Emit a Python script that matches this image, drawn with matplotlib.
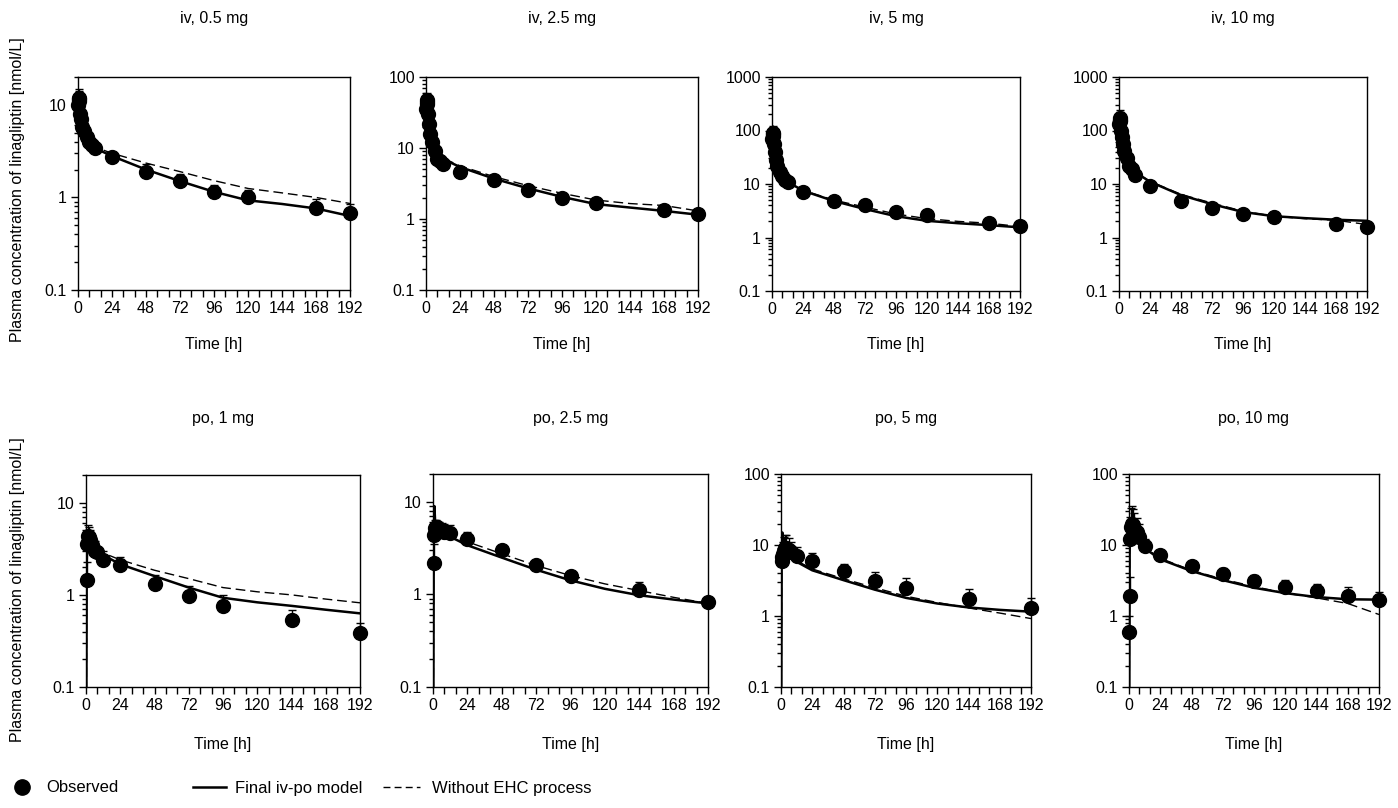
import matplotlib
matplotlib.use("Agg")
import matplotlib.pyplot as plt
import matplotlib.ticker as mtick
from matplotlib import font_manager
from matplotlib.lines import Line2D
import numpy as np

plt.rcParams['font.family'] = ['Liberation Sans', 'DejaVu Sans']

# observed sampling times
iv_obs_t = [0.25, 0.5, 0.75, 1, 1.5, 2, 3, 4, 6, 8, 10, 12, 24, 48, 72, 96, 120, 168, 192]
po_obs_t = [0.5, 1, 1.5, 2, 3, 4, 6, 8, 12, 24, 48, 72, 96, 144, 192]
po10_obs_t = [0.25, 0.5, 1, 1.5, 2, 3, 4, 6, 8, 12, 24, 48, 72, 96, 120, 144, 168, 192]

# observed mean and mean+SD (nmol/L)
iv05_obs = [10, 11.5, 12, 11, 8, 7, 5.8, 5.2, 4.5, 4.0, 3.7, 3.4, 2.75, 1.9, 1.5, 1.15, 1.0, 0.77, 0.68]
iv05_up = [12, 14, 15, 13, 9.5, 8.2, 6.7, 6.0, 5.2, 4.6, 4.3, 3.9, 3.1, 2.3, 1.8, 1.35, 1.2, 0.97, 0.84]
iv25_obs = [35, 42, 48, 45, 30, 22, 16, 12, 9, 7.0, 6.5, 5.9, 4.6, 3.55, 2.6, 2.0, 1.7, 1.35, 1.18]
iv25_up = [42, 52, 60, 55, 36, 27, 19, 14, 10.5, 8, 7.4, 6.8, 5.3, 3.9, 2.9, 2.3, 2.0, 1.6, 1.4]
iv5_obs = [70, 85, 90, 80, 55, 40, 28, 22, 17, 14, 12, 10.7, 7.2, 4.9, 4.1, 3.05, 2.6, 1.9, 1.67]
iv5_up = [90, 110, 120, 100, 68, 48, 33, 26, 20, 16, 14, 12, 8, 5.5, 4.6, 3.4, 2.9, 2.1, 1.9]
iv10_obs = [130, 160, 170, 150, 100, 75, 55, 42, 30, 22, 19, 15, 9, 4.8, 3.6, 2.8, 2.4, 1.8, 1.6]
iv10_up = [170, 220, 240, 190, 130, 95, 70, 52, 36, 26, 22, 17, 10, 5.4, 4.1, 3.1, 2.6, 2.0, 1.8]

po1_obs = [1.45, 3.6, 4.4, 4.3, 3.9, 3.5, 3.0, 2.9, 2.4, 2.1, 1.3, 0.97, 0.75, 0.53, 0.39]
po1_up = [2.3, 4.8, 5.8, 5.5, 5.0, 4.3, 3.8, 3.3, 3.0, 2.6, 1.65, 1.25, 1.0, 0.68, 0.5]
po25_obs = [2.2, 4.4, 5.2, 5.4, 5.3, 5.0, 4.8, 4.7, 4.6, 4.0, 3.0, 2.1, 1.6, 1.12, 0.82]
po25_up = [3.5, 5.8, 6.3, 6.4, 6.2, 6.0, 5.9, 5.7, 5.6, 4.7, 3.4, 2.3, 1.8, 1.35, 0.9]
po5_obs = [6.0, 6.8, 7.5, 8.3, 9.0, 9.2, 8.5, 8.0, 7.0, 5.9, 4.3, 3.1, 2.5, 1.74, 1.3]
po5_up = [7.5, 9, 11, 13, 14, 14, 12.5, 11, 9.5, 7.6, 5.4, 4.1, 3.4, 2.4, 1.8]
po10_obs = [0.6, 1.9, 12, 18, 20, 19, 17, 15, 13, 9.8, 7.2, 5.0, 3.9, 3.1, 2.55, 2.25, 1.9, 1.7]
po10_up = [1.0, 3.5, 25, 33, 35, 32, 28, 24, 20, 12, 8.3, 6.0, 4.8, 3.8, 3.2, 2.8, 2.6, 2.2]

# model predictions
iv_model_t = [0, 0.5, 1, 1.5, 2, 3, 4, 6, 8, 12, 24, 48, 72, 96, 120, 144, 168, 192]
iv05_fit = [9, 14, 10, 7.5, 6.5, 5.5, 5.0, 4.3, 3.9, 3.4, 2.8, 2.0, 1.5, 1.15, 0.93, 0.85, 0.76, 0.63]
iv05_noehc = [9, 14, 10, 7.5, 6.5, 5.5, 5.0, 4.3, 3.95, 3.5, 3.0, 2.35, 1.9, 1.52, 1.25, 1.12, 1.0, 0.86]
iv25_fit = [30, 55, 40, 27, 20, 15, 12, 9.5, 8.2, 7.0, 5.4, 3.7, 2.7, 2.05, 1.62, 1.45, 1.3, 1.15]
iv25_noehc = [30, 55, 40, 27, 20, 15, 12, 9.5, 8.3, 7.2, 5.6, 3.95, 2.95, 2.3, 1.85, 1.65, 1.55, 1.3]
iv5_fit = [60, 120, 80, 55, 40, 28, 22, 17, 14, 11, 7.5, 4.8, 3.4, 2.5, 2.05, 1.85, 1.7, 1.55]
iv5_noehc = [60, 120, 80, 55, 40, 28, 22, 17, 14, 11.2, 7.6, 5.0, 3.7, 2.75, 2.25, 2.0, 1.85, 1.6]
iv10_fit = [120, 220, 150, 100, 75, 55, 42, 30, 23, 17, 11, 6.2, 4.2, 3.0, 2.5, 2.3, 2.15, 2.05]
iv10_noehc = [120, 220, 150, 100, 75, 55, 42, 30, 23, 17, 11.2, 6.4, 4.4, 3.1, 2.5, 2.25, 2.1, 1.75]

po_model_t = [0.1, 0.5, 1, 1.5, 2, 3, 4, 6, 8, 12, 24, 48, 72, 96, 120, 144, 168, 192]
po1_fit = [0.01, 2.0, 4.0, 4.6, 4.5, 4.0, 3.6, 3.2, 3.0, 2.7, 2.15, 1.6, 1.2, 0.93, 0.83, 0.76, 0.69, 0.63]
po1_noehc = [0.01, 2.0, 4.0, 4.6, 4.5, 4.1, 3.7, 3.3, 3.1, 2.85, 2.4, 1.85, 1.5, 1.2, 1.08, 1.0, 0.9, 0.82]
po25_fit = [0.01, 3.0, 9.0, 6.0, 5.5, 5.2, 5.0, 4.8, 4.6, 4.2, 3.4, 2.5, 1.85, 1.42, 1.15, 0.98, 0.88, 0.8]
po25_noehc = [0.01, 3.0, 9.0, 6.0, 5.5, 5.3, 5.1, 4.9, 4.7, 4.4, 3.7, 2.75, 2.05, 1.6, 1.3, 1.1, 0.93, 0.8]
po5_fit = [0.01, 5.0, 15.0, 10.0, 9.0, 8.5, 8.0, 7.5, 6.8, 5.8, 4.4, 3.2, 2.35, 1.8, 1.5, 1.32, 1.22, 1.15]
po5_noehc = [0.01, 5.0, 15.0, 10.0, 9.0, 8.5, 8.0, 7.5, 6.9, 6.0, 4.6, 3.35, 2.5, 1.9, 1.55, 1.3, 1.1, 0.92]
po10_fit = [0.01, 8.0, 22.0, 20.0, 18.0, 16.0, 14.0, 12.0, 10.5, 9.0, 6.3, 4.3, 3.2, 2.5, 2.1, 1.85, 1.72, 1.7]
po10_noehc = [0.01, 8.0, 22.0, 20.0, 18.0, 16.0, 14.0, 12.0, 10.6, 9.2, 6.5, 4.4, 3.3, 2.6, 2.1, 1.8, 1.5, 1.05]

titles = ["iv, 0.5 mg", "iv, 2.5 mg", "iv, 5 mg", "iv, 10 mg",
          "po, 1 mg", "po, 2.5 mg", "po, 5 mg", "po, 10 mg"]
ytops = [20, 100, 1000, 1000, 20, 20, 100, 100]
xticks = [0, 24, 48, 72, 96, 120, 144, 168, 192]

panels = [
    (iv_obs_t, iv05_obs, iv05_up, iv_model_t, iv05_fit, iv05_noehc),
    (iv_obs_t, iv25_obs, iv25_up, iv_model_t, iv25_fit, iv25_noehc),
    (iv_obs_t, iv5_obs, iv5_up, iv_model_t, iv5_fit, iv5_noehc),
    (iv_obs_t, iv10_obs, iv10_up, iv_model_t, iv10_fit, iv10_noehc),
    (po_obs_t, po1_obs, po1_up, po_model_t, po1_fit, po1_noehc),
    (po_obs_t, po25_obs, po25_up, po_model_t, po25_fit, po25_noehc),
    (po_obs_t, po5_obs, po5_up, po_model_t, po5_fit, po5_noehc),
    (po10_obs_t, po10_obs, po10_up, po_model_t, po10_fit, po10_noehc),
]

# axes boxes in pixels: left, right, top, bottom
W, H = 1398, 808
boxes = [(78, 350, 77, 290), (426, 698, 77, 290), (772, 1020, 77, 291), (1119, 1367, 77, 291),
         (86, 360, 475, 687), (433, 708, 474, 687), (781, 1031, 474, 687), (1129, 1379, 474, 687)]

fig = plt.figure(figsize=(W / 100, H / 100), dpi=100)
fs = 11.5
dash = (0, (7, 3.5))

for i, (ot, oy, oup, mt, fit, noehc) in enumerate(panels):
    l, r, t, b = boxes[i]
    ax = fig.add_axes([l / W, (H - b) / H, (r - l) / W, (b - t) / H])
    ax.set_yscale('log')
    ax.plot(mt, noehc, color='black', lw=1.0, ls=dash)
    ax.plot(mt, fit, color='black', lw=1.8)
    oy = np.array(oy)
    err = np.array(oup) - oy
    ax.errorbar(ot, oy, yerr=[np.zeros_like(err), err], fmt='o', color='black',
                ms=10, elinewidth=1, capsize=3, capthick=1, clip_on=False, zorder=5)
    ax.set_xlim(0, 192)
    ax.set_ylim(0.1, ytops[i])
    ax.set_xticks(xticks)
    ax.set_xticklabels([str(v) for v in xticks])
    ax.xaxis.set_minor_locator(mtick.MultipleLocator(8))
    decades = [d for d in [0.1, 1, 10, 100, 1000] if d <= ytops[i]]
    ax.set_yticks(decades)
    ax.set_yticklabels(['%g' % d for d in decades])
    ax.yaxis.set_minor_locator(mtick.LogLocator(base=10, subs=np.arange(2, 10)))
    ax.yaxis.set_minor_formatter(mtick.NullFormatter())
    ax.tick_params(which='both', direction='out', top=False, right=False,
                   labelsize=fs, width=1, color='black')
    ax.tick_params(which='major', length=5, pad=3)
    ax.tick_params(axis='x', which='minor', length=5)
    ax.tick_params(axis='y', which='minor', length=3)
    for s in ax.spines.values():
        s.set_linewidth(1)
    ax.text(0.5, 1 + (t - (18 if i < 4 else 418)) / (b - t), titles[i],
            transform=ax.transAxes, ha='center', va='center', fontsize=fs)
    ax.text(0.5, -(345 - b if i < 4 else 745 - b) / (b - t), "Time [h]",
            transform=ax.transAxes, ha='center', va='center', fontsize=fs)

for yc in (190, 590):
    fig.text(18 / W, (H - yc) / H, "Plasma concentration of linagliptin [nmol/L]",
             rotation=90, ha='center', va='center', fontsize=fs)

# legend row uses a condensed face if one is installed
try:
    font_manager.findfont('Liberation Sans Narrow', fallback_to_default=False)
    lprop = {'family': 'Liberation Sans Narrow', 'size': 14}
except ValueError:
    lprop = {'family': 'Liberation Sans', 'size': 12}

items = [
    (Line2D([], [], marker='o', ls='none', color='black', ms=11), "Observed", 10, 24, 12),
    (Line2D([], [], color='black', lw=1.8), "Final iv-po model", 193, 33, 9),
    (Line2D([], [], color='black', lw=1.0, ls=(0, (5, 3))), "Without EHC process", 383, 37, 12),
]
px_per_em = lprop['size'] * 100 / 72
for h, lab, x0, hlen, gap in items:
    fig.legend([h], [lab], loc='center left', bbox_to_anchor=(x0 / W, 20 / H),
               frameon=False, prop=lprop, handlelength=hlen / px_per_em,
               handletextpad=gap / px_per_em, borderpad=0, borderaxespad=0)

fig.savefig("out.png", dpi=100)
